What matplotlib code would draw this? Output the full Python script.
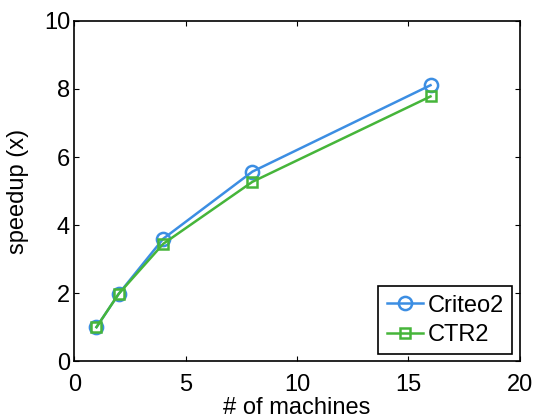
import matplotlib.pyplot as plt

machines = [1, 2, 4, 8, 16]
criteo2 = [1.0, 1.98, 3.6, 5.57, 8.11]
ctr2 = [1.0, 1.98, 3.45, 5.27, 7.78]

plt.rcParams['font.family'] = ['Liberation Sans', 'DejaVu Sans']

fig = plt.figure(figsize=(5.34, 4.18), dpi=100)
ax = fig.add_axes([0.139, 0.136, 0.834, 0.814])

ax.plot(machines, criteo2, color='#3c8ee3', linewidth=1.8, marker='o', markersize=9.5,
        markerfacecolor='none', markeredgewidth=1.8, label='Criteo2')
ax.plot(machines, ctr2, color='#46b53a', linewidth=1.8, marker='s', markersize=7.5,
        markerfacecolor='none', markeredgewidth=1.8, label='CTR2')

ax.set_xlim(0, 20)
ax.set_ylim(0, 10)
ax.set_xticks([0, 5, 10, 15, 20])
ax.set_yticks([0, 2, 4, 6, 8, 10])
ax.tick_params(direction='in', top=True, right=True, labelsize=17, length=3.5, width=0.8)
ax.tick_params(axis='x', pad=9)
ax.tick_params(axis='y', pad=3)
for s in ax.spines.values():
    s.set_linewidth(1.2)

ax.set_xlabel('# of machines', fontsize=17, labelpad=1)
ax.set_ylabel('speedup (x)', fontsize=17, labelpad=11)

leg = ax.legend(loc='lower right', fontsize=17, fancybox=False, framealpha=1,
                edgecolor='black', handlelength=1.55, handletextpad=0.2,
                borderpad=0.35, labelspacing=0.3, borderaxespad=0.3)
leg.get_frame().set_linewidth(1.2)

fig.savefig('out.png', dpi=100)
